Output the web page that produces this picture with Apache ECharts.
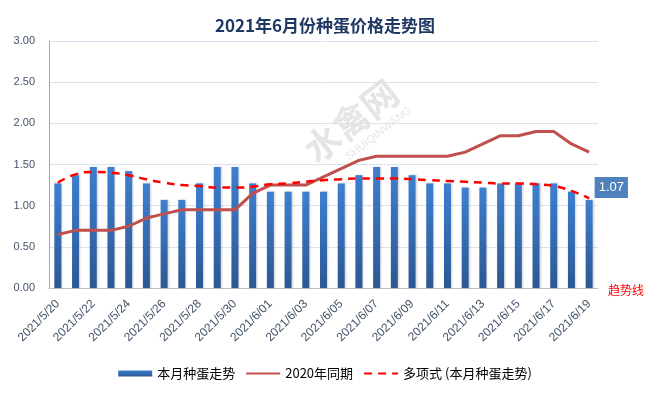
<!DOCTYPE html>
<html>
<head>
<meta charset="utf-8">
<script src="https://cdn.jsdelivr.net/npm/echarts@6/dist/echarts.min.js"></script>
<style>
html,body{margin:0;padding:0;background:#fff;}
#main{width:650px;height:393px;}
</style>
</head>
<body>
<div id="main"></div>
<script>
const categories = ['2021/5/20','2021/5/21','2021/5/22','2021/5/23','2021/5/24','2021/5/25','2021/5/26','2021/5/27','2021/5/28','2021/5/29','2021/5/30','2021/5/31',
  '2021/6/01','2021/6/02','2021/6/03','2021/6/04','2021/6/05','2021/6/06','2021/6/07','2021/6/08','2021/6/09','2021/6/10','2021/6/11','2021/6/12','2021/6/13','2021/6/14','2021/6/15','2021/6/16','2021/6/17','2021/6/18','2021/6/19'];
const thisMonth = [1.27,1.37,1.47,1.47,1.42,1.27,1.07,1.07,1.27,1.47,1.47,1.27,
  1.17,1.17,1.17,1.17,1.27,1.37,1.47,1.47,1.37,1.27,1.27,1.22,1.22,1.27,1.27,1.27,1.27,1.17,1.07];
const lastYear = [0.65,0.70,0.70,0.70,0.75,0.85,0.90,0.95,0.95,0.95,0.95,1.15,
  1.25,1.25,1.25,1.35,1.45,1.55,1.60,1.60,1.60,1.60,1.60,1.65,1.75,1.85,1.85,1.90,1.90,1.75,1.65];
const trend = [1.28,1.38,1.41,1.40,1.37,1.32,1.28,1.25,1.24,1.22,1.22,1.23,
  1.26,1.27,1.29,1.31,1.32,1.33,1.33,1.33,1.32,1.31,1.30,1.29,1.28,1.27,1.27,1.26,1.24,1.18,1.09];
const yTicks = [0, 0.5, 1.0, 1.5, 2.0, 2.5, 3.0];
const seriesNames = ['本月种蛋走势','2020年同期','多项式 (本月种蛋走势)'];

const chart = echarts.init(document.getElementById('main'));
const barData = thisMonth.map((v,i) => {
  if (i === thisMonth.length - 1) {
    return {value: v, label: {show: true, position: [9, -23], formatter: p => p.value.toFixed(2),
      backgroundColor: '#4f81bd', color: '#fff', fontSize: 13, padding: [4,4,4,4], fontFamily: 'Liberation Sans'}};
  }
  return v;
});
chart.setOption({
  animation: false,
  title: [{
    text: '2021年6月份种蛋价格走势图', left: 'center', top: 12,
    textStyle: {fontSize: 17, fontWeight: 'bold', color: '#203864', fontFamily: 'Noto Sans CJK SC'}
  },{
    text: '趋势线', left: 603, top: 279,
    textStyle: {fontSize: 12, fontWeight: 'normal', color: '#ff0000', fontFamily: 'Noto Sans CJK SC'}
  }],
  graphic: [{
    type: 'group', x: 351, y: 121, rotation: 0.66, silent: true, z: 0,
    children: [{
      type: 'text', x: 0, y: 0,
      style: {text: '水禽网', fontSize: 36, fill: 'rgba(150,150,150,0.25)', fontFamily: 'Noto Sans CJK SC', fontWeight: 'bold', align: 'center', verticalAlign: 'middle'}
    },{
      type: 'text', x: 14, y: 27,
      style: {text: 'SHUIQINWANG', fontSize: 11, fill: 'rgba(150,150,150,0.25)', fontFamily: 'Liberation Sans', align: 'center', verticalAlign: 'middle'}
    }]
  }],
  grid: {left: 49, right: 52, top: 41, bottom: 105},
  legend: {
    bottom: 8, left: 'center', itemWidth: 34, itemHeight: 6, itemGap: 10,
    textStyle: {fontSize: 13, color: '#000', fontFamily: 'Noto Sans CJK SC'},
    data: [{name: seriesNames[0], icon: 'rect'},
           {name: seriesNames[1], itemStyle: {opacity: 0}},
           {name: seriesNames[2], itemStyle: {opacity: 0}}]
  },
  xAxis: {
    type: 'category', data: categories,
    axisLine: {lineStyle: {color: '#bfbfbf'}},
    axisTick: {show: false},
    axisLabel: {interval: 1, rotate: 45, color: '#44546a', fontSize: 12, fontFamily: 'Liberation Sans', margin: 14}
  },
  yAxis: {
    type: 'value', min: 0, max: 3, interval: 0.5,
    axisLine: {show: true, lineStyle: {color: '#a6a6a6'}},
    axisTick: {show: false},
    splitLine: {lineStyle: {color: '#d9e2f0'}},
    axisLabel: {formatter: v => v.toFixed(2), color: '#44546a', fontSize: 11, fontFamily: 'Liberation Sans', margin: 14}
  },
  series: [{
    name: seriesNames[0], type: 'bar', data: barData, barWidth: 7,
    itemStyle: {
      color: new echarts.graphic.LinearGradient(0,0,0,1,[{offset:0,color:'#3d7fd0'},{offset:1,color:'#2c5894'}]),
      shadowColor: 'rgba(0,0,0,0.18)', shadowBlur: 2, shadowOffsetX: 1
    }
  },{
    name: seriesNames[1], type: 'line', data: lastYear, symbol: 'none',
    lineStyle: {color: '#c0504d', width: 3}, itemStyle: {color: '#c0504d'}
  },{
    name: seriesNames[2], type: 'line', data: trend, symbol: 'none', smooth: true,
    lineStyle: {color: '#ff0000', width: 2.5, type: [8,6]}, itemStyle: {color: '#ff0000'}
  }]
});
</script>
</body>
</html>
